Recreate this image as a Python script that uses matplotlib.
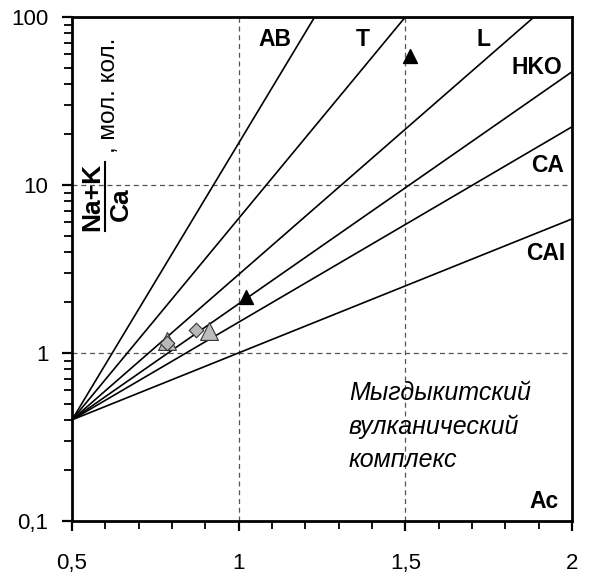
import matplotlib
matplotlib.use("Agg")
import matplotlib.pyplot as plt
from matplotlib.ticker import FixedLocator, LogLocator, NullFormatter

plt.rcParams["font.family"] = ["Liberation Sans", "DejaVu Sans"]

# discrimination lines, all fanning out of a common origin
origin = (0.5, 0.4)
line_names = ["AB", "T", "L", "HKO", "CA", "CAI"]
line_end_x = [1.228, 1.5, 1.886, 2.0, 2.0, 2.0]
line_end_y = [100.0, 100.0, 100.0, 47.2, 22.2, 6.28]

# samples
black_tri_x = [1.022, 1.513]
black_tri_y = [2.14, 58.2]
grey_tri_x = [0.785, 0.911]
grey_tri_y = [1.18, 1.35]
grey_dia_x = [0.785, 0.872]
grey_dia_y = [1.15, 1.37]

x_ticks = [0.5, 1.0, 1.5, 2.0]
x_labels = ["0,5", "1", "1,5", "2"]
y_ticks = [0.1, 1, 10, 100]
y_labels = ["0,1", "1", "10", "100"]

fig = plt.figure(figsize=(5.92, 5.77), dpi=100)
ax = fig.add_axes([72 / 592, 1 - 521 / 577, 500 / 592, 504 / 577])
ax.set_yscale("log")
ax.set_xlim(0.5, 2.0)
ax.set_ylim(0.1, 100)

for x in (1.0, 1.5):
    ax.axvline(x, color="#555555", lw=0.9, ls=(0, (4, 3)), zorder=1)
for y in (1, 10):
    ax.axhline(y, color="#555555", lw=0.9, ls=(0, (4, 3)), zorder=1)

for ex, ey in zip(line_end_x, line_end_y):
    ax.plot([origin[0], ex], [origin[1], ey], color="black", lw=1.2,
            solid_capstyle="butt", zorder=2)

ax.scatter(grey_tri_x, grey_tri_y, marker="^", s=165, c="#bdbdbd",
           edgecolors="#333333", linewidths=0.8, zorder=3)
ax.scatter(grey_dia_x, grey_dia_y, marker="D", s=55, c="#b8b8b8",
           edgecolors="#333333", linewidths=0.8, zorder=4)
ax.scatter(black_tri_x, black_tri_y, marker="^", s=100, c="black", zorder=4)


def px(x, y):
    return (x - 72) / 500, (521 - y) / 504


label_pos = {"AB": (275, 40), "T": (363, 40), "L": (483, 40),
             "HKO": (537, 68), "CA": (548, 166), "CAI": (546, 254)}
for name in line_names:
    ax.text(*px(*label_pos[name]), name, transform=ax.transAxes,
            fontsize=16.5, fontweight="bold", ha="center", va="center")
ax.text(*px(544, 502), "Ac", transform=ax.transAxes, fontsize=16.5,
        fontweight="bold", ha="center", va="center")

for i, line in enumerate(["Мыгдыкитский", "вулканический", "комплекс"]):
    ax.text(*px(349, 393 + 33.5 * i), line, transform=ax.transAxes,
            fontsize=18, style="italic", ha="left", va="center")

# y axis title drawn inside the plot as a vertical fraction
ax.text(*px(92, 197), "Na+K", transform=ax.transAxes, fontsize=19,
        fontweight="bold", rotation=90, ha="center", va="center")
ax.text(*px(121, 204), "Ca", transform=ax.transAxes, fontsize=19,
        fontweight="bold", rotation=90, ha="center", va="center")
ax.plot([px(105, 0)[0]] * 2, [px(0, 162)[1], px(0, 231)[1]],
        transform=ax.transAxes, color="black", lw=1.5, clip_on=False)
ax.text(*px(109, 153), ", мол. кол.", transform=ax.transAxes, fontsize=17.5,
        rotation=90, ha="center", va="bottom")

ax.xaxis.set_major_locator(FixedLocator(x_ticks))
ax.set_xticklabels(x_labels)
ax.xaxis.set_minor_locator(FixedLocator([0.5 + 0.1 * i for i in range(16)]))
ax.yaxis.set_major_locator(FixedLocator(y_ticks))
ax.set_yticklabels(y_labels)
ax.yaxis.set_minor_locator(LogLocator(base=10, subs=range(2, 10)))
ax.yaxis.set_minor_formatter(NullFormatter())

ax.tick_params(axis="both", which="major", direction="out", length=7,
               width=1.6, labelsize=16)
ax.tick_params(axis="both", which="minor", direction="out", length=6,
               width=1.3)
ax.tick_params(axis="x", which="major", pad=16)
ax.tick_params(axis="y", which="major", pad=10)
for s in ax.spines.values():
    s.set_linewidth(2)

fig.savefig("out.png", dpi=100)
